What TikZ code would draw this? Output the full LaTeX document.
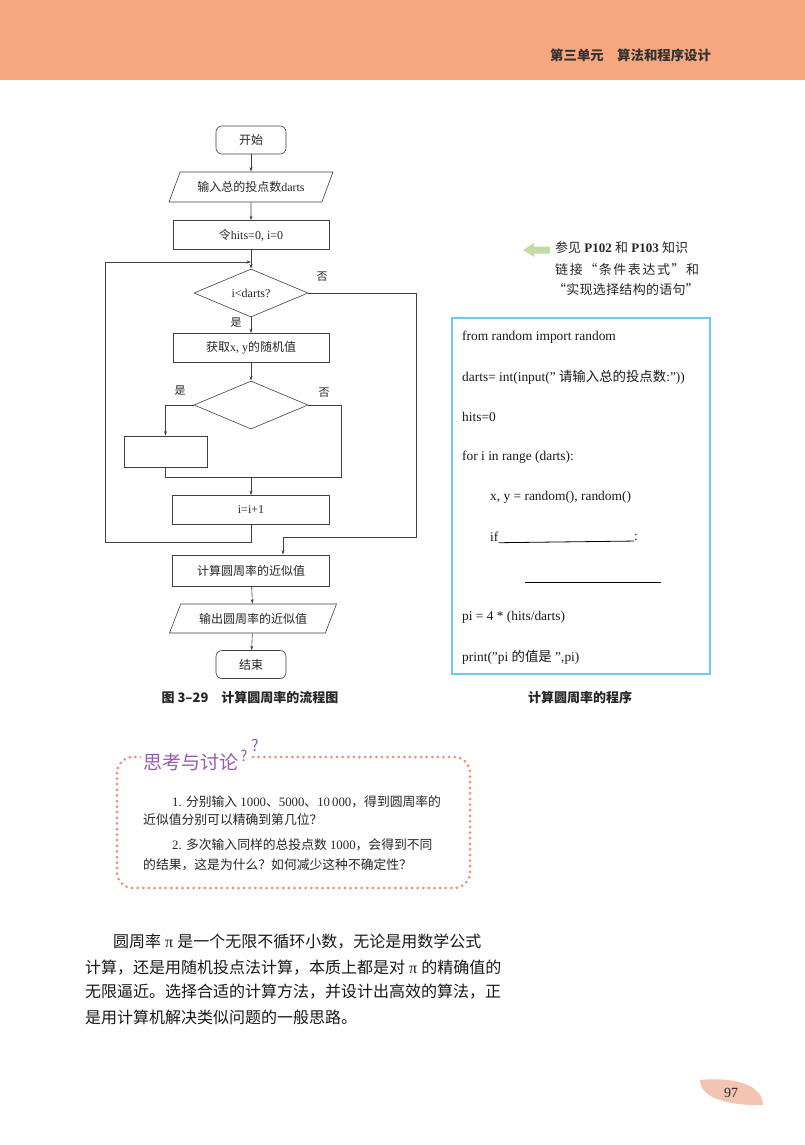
\documentclass[tikz,border=0pt]{standalone}
\usepackage{fontspec}
\setmainfont{Liberation Serif}
\newfontfamily\cjk{Noto Sans CJK SC}
\newfontfamily\cjkfw[RawFeature=+fwid]{Noto Sans CJK SC}
\newcommand\zh[1]{{\cjk #1}}
\usetikzlibrary{shapes.geometric,arrows.meta,calc}
\definecolor{headorange}{RGB}{246,168,126}
\definecolor{codeblue}{RGB}{115,200,238}
\definecolor{notegreen}{RGB}{195,220,165}
\definecolor{dotpink}{RGB}{240,140,122}
\definecolor{talkpurple}{RGB}{150,90,175}
\definecolor{leafpink}{RGB}{243,196,178}

\begin{document}
\begin{tikzpicture}[x=1pt,y=-1pt,
  chart/.style={font=\fontsize{12}{14}\selectfont, text=black!85, draw=black!75, line width=0.6pt},
  term/.style={chart, rounded corners=6pt, minimum width=70pt, minimum height=28pt},
  proc/.style={chart, rectangle, minimum width=156pt, minimum height=29pt},
  io/.style={chart, trapezium, trapezium left angle=45, trapezium right angle=135,
    trapezium stretches body, minimum width=164pt, minimum height=30pt, inner sep=0pt},
  decide/.style={chart, diamond, aspect=2.375, minimum width=114pt, minimum height=48pt, inner sep=0pt},
  flow/.style={draw=black!75, line width=0.6pt, -{Stealth[length=4.5pt,width=3pt]}},
  plain/.style={draw=black!75, line width=0.6pt},
  yesno/.style={font=\fontsize{11}{13}\selectfont, text=black!85},
  code/.style={font=\fontsize{13.4}{15}\selectfont, anchor=west, inner sep=0pt, text=black!90},
  talk/.style={font=\fontsize{12.8}{15}\selectfont, anchor=west, inner sep=0pt, text=black!85},
  body/.style={font=\fontsize{16}{18}\selectfont, anchor=west, inner sep=0pt, text=black!90},
  caption/.style={font=\fontsize{13}{15}\selectfont, inner sep=0pt, text=black!85}]

\useasboundingbox (0,0) rectangle (805,1145);
\fill[white] (0,0) rectangle (805,1145);
\fill[headorange] (0,0) rectangle (805,80);
\node[anchor=west, inner sep=0pt, text=black!80, font=\fontsize{13.4}{16}\selectfont] (unit) at (550,55)
  {\zh{\bfseries 第三单元\quad 算法和程序设计}};

% flow chart
\node[term] (start) at (251,140) {\zh{开始}};
\node[io] (input) at (251,187) {\zh{输入总的投点数}darts};
\node[proc] (init) at (251,235) {\zh{令}hits=0, i=0};
\node[decide] (cond1) at (251,293) {i<darts?};
\node[proc] (get) at (251,348) {\zh{获取}x, y\zh{的随机值}};
\node[decide] (cond2) at (251,405) {};
\node[chart, rectangle, minimum width=83pt, minimum height=31pt] (blank) at (165.5,451.5) {};
\node[proc, minimum width=157pt] (inc) at (251,510) {i=i+1};
\node[proc, minimum width=157pt, minimum height=31pt] (calc) at (251,570.5) {\zh{计算圆周率的近似值}};
\node[io, minimum width=167pt, minimum height=29pt] (output) at (253,618.5) {\zh{输出圆周率的近似值}};
\node[term] (stop) at (251,664.5) {\zh{结束}};

\coordinate (loopin) at (251,262);
\coordinate (merge) at (251,477);
\coordinate (calcin) at ($(calc.north)+(32,0)$);

\draw[flow] (start) -- (input);
\draw[flow] (input) -- (init);
\draw[flow] (init) -- (cond1);
\draw[flow] (cond1) -- (get);
\draw[flow] (get) -- (cond2);
\draw[flow] (cond2.west) -| (blank.north);
\draw[plain] (cond2.east) -| (341,477) -- (blank.south |- merge) -- (blank.south);
\draw[flow] (merge) -- (inc);
\draw[flow] (inc.south) -- (251,542) -- (105,542) -- (105,262) -- (loopin);
\draw[flow] (cond1.east) -- (416,293) -- (416,537) -- (calcin |- 0,537) -- (calcin);
\draw[flow] (calc) -- (output);
\draw[flow] (output) -- (stop);

\node[yesno] at (322,277) {\zh{否}};
\node[yesno] at (236,323) {\zh{是}};
\node[yesno] at (180,391) {\zh{是}};
\node[yesno] at (324,393) {\zh{否}};

\node[caption] (figcap) at (250,698) {\zh{\bfseries 图 3–29\quad 计算圆周率的流程图}};

% note and program
\fill[notegreen] (523,250) -- (534,243) -- (534,246.5) -- (550,246.5) -- (550,253.5)
  -- (534,253.5) -- (534,257) -- cycle;
\node[anchor=west, inner sep=0pt, font=\fontsize{13}{15}\selectfont, text=black!85] (note1) at (555,248)
  {\zh{参见} \textbf{P102} \zh{和} \textbf{P103} \zh{知识}};
\node[anchor=west, inner sep=0pt, font=\fontsize{13}{15}\selectfont, text=black!85] (note2) at (555,270)
  {{\cjkfw\addfontfeatures{LetterSpace=12}链接“条件表达式”和}};
\node[anchor=west, inner sep=0pt, font=\fontsize{13}{15}\selectfont, text=black!85] (note3) at (553,290)
  {{\cjkfw\addfontfeatures{LetterSpace=2}“实现选择结构的语句”}};

\draw[codeblue, line width=1.6pt] (452,318) rectangle (710,674);
\node[code] (l1) at (462,337) {from random import random};
\node[code] (l2) at (462,377) {darts= int(input(" \zh{请输入总的投点数}:"))};
\node[code] (l3) at (462,417) {hits=0};
\node[code] (l4) at (462,457) {for i in range (darts):};
\node[code] (l5) at (490,497) {x, y = random(), random()};
\node[code] (l6) at (490,537) {if};
\node[code] (l6b) at (634,537) {:};
\draw[black, line width=0.8pt] ([yshift=-1pt]l6.base east) -- ([yshift=-1pt]l6b.base west);
\draw[black, line width=0.8pt] (525,582) -- (661,582);
\node[code] (l7) at (462,617) {pi = 4 * (hits/darts)};
\node[code] (l8) at (462,657) {print("pi \zh{的值是} ",pi)};

\node[caption] (progcap) at (580,698) {\zh{\bfseries 计算圆周率的程序}};

% discussion
\draw[dotpink, line width=3pt, line cap=round, dash pattern=on 0pt off 5.6pt, rounded corners=16pt]
  (117,757) rectangle (470,888);
\node[anchor=west, fill=white, inner sep=2pt, font=\fontsize{19}{21}\selectfont, text=talkpurple] (talktitle) at (141,762)
  {\zh{思考与讨论}};
\node[fill=white, inner sep=1pt, font=\fontsize{15}{16}\selectfont, text=talkpurple] (q1) at (244,756) {\zh{?}};
\node[fill=white, inner sep=1pt, font=\fontsize{16}{17}\selectfont, text=talkpurple] (q2) at (255,745) {\zh{?}};

\node[talk] (t1) at (172,802) {1. \zh{分别输入} 1000\zh{、}5000\zh{、}10\,000\zh{，得到圆周率的}};
\node[talk] (t2) at (143,820) {\zh{近似值分别可以精确到第几位？}};
\node[talk] (t3) at (172,845) {2. \zh{多次输入同样的总投点数} 1000\zh{，会得到不同}};
\node[talk] (t4) at (143,865) {\zh{的结果，这是为什么？如何减少这种不确定性？}};

% text
\node[body] (b1) at (113,942) {\zh{圆周率} π \zh{是一个无限不循环小数，无论是用数学公式}};
\node[body] (b2) at (85,968) {\zh{计算，还是用随机投点法计算，本质上都是对} π \zh{的精确值的}};
\node[body] (b3) at (85,992) {\zh{无限逼近。选择合适的计算方法，并设计出高效的算法，正}};
\node[body] (b4) at (85,1017) {\zh{是用计算机解决类似问题的一般思路。}};

% page number
\fill[leafpink] (700,1080) .. controls (745,1076) and (763,1090) .. (763,1105)
  .. controls (735,1106) and (700,1100) .. cycle;
\node[font=\fontsize{14}{16}\selectfont, text=black!85] (page) at (731,1093) {97};
\end{tikzpicture}
\end{document}
